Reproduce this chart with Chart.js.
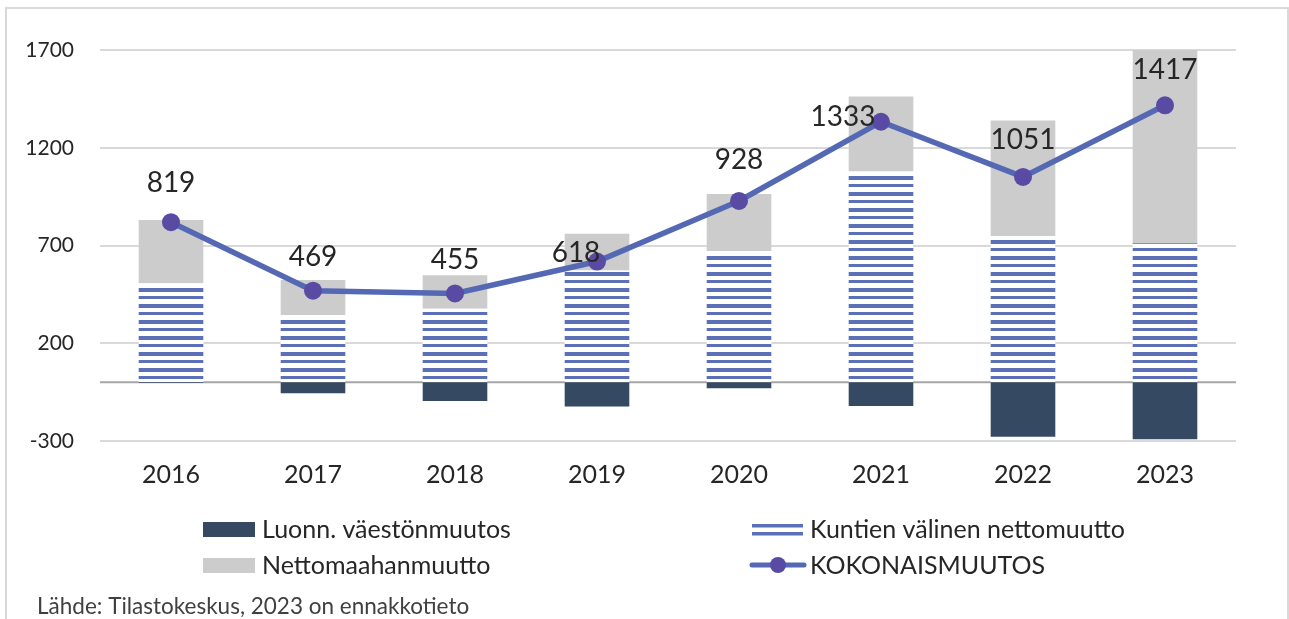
<!DOCTYPE html>
<html>
<head>
<meta charset="utf-8">
<script src="https://cdn.jsdelivr.net/npm/chart.js@4"></script>
<style>
  html, body { margin: 0; padding: 0; background: #fff; }
  #wrap { width: 1289px; height: 619px; position: relative; }
</style>
</head>
<body>
<div id="wrap"><canvas id="c" width="1289" height="619"></canvas></div>
<script>
// ---- Data ----
const years = ['2016', '2017', '2018', '2019', '2020', '2021', '2022', '2023'];
const luonnVaestonmuutos = [-3, -56, -95, -124, -30, -121, -278, -291];
const kuntienValinenNettomuutto = [507, 345, 376, 572, 672, 1078, 749, 712];
const nettomaahanmuutto = [324, 179, 172, 188, 292, 384, 590, 988];
const kokonaismuutos = [819, 469, 455, 618, 928, 1333, 1051, 1417];
const yTicks = [-300, 200, 700, 1200, 1700];
const seriesNames = ['Luonn. väestönmuutos', 'Kuntien välinen nettomuutto', 'Nettomaahanmuutto', 'KOKONAISMUUTOS'];
const sourceText = 'Lähde: Tilastokeskus, 2023 on ennakkotieto';

// ---- Styles ----
const FONT = 'Lato, "Open Sans", sans-serif';
const C_DARK = '#354963';
const C_STRIPE = '#5c70b8';
const C_GREY = '#cccccc';
const C_LINE = '#5468b4';
const C_MARK = '#594aa4';
const C_TEXT = '#262626';

function stripePattern() {
  const p = document.createElement('canvas');
  p.width = 8; p.height = 16;
  const g = p.getContext('2d');
  g.fillStyle = '#ffffff'; g.fillRect(0, 0, 8, 16);
  g.fillStyle = C_STRIPE;
  g.fillRect(0, 0, 8, 4);
  g.fillRect(0, 8, 8, 3);
  return document.getElementById('c').getContext('2d').createPattern(p, 'repeat');
}
const pattern = stripePattern();

// label offsets relative to each line point (manual placement as in the reference)
const labelOffsets = [[0, -39], [0, -34], [0, -33], [-21, -9], [0, -41], [-38, -5], [0, -37], [0, -35]];

const framePlugin = {
  id: 'frame',
  beforeDraw(chart) {
    const ctx = chart.ctx;
    ctx.save();
    ctx.fillStyle = '#fff';
    ctx.fillRect(0, 0, chart.width, chart.height);
    ctx.strokeStyle = '#d9d9d9';
    ctx.lineWidth = 2;
    ctx.strokeRect(6, 8, 1282, 640);
    ctx.restore();
  },
  beforeDatasetsDraw(chart) {
    const ctx = chart.ctx;
    const y0 = chart.scales.y.getPixelForValue(0);
    ctx.save();
    ctx.strokeStyle = '#a6a6a6';
    ctx.lineWidth = 2;
    ctx.beginPath();
    ctx.moveTo(chart.chartArea.left, y0);
    ctx.lineTo(chart.chartArea.right, y0);
    ctx.stroke();
    ctx.restore();
  }
};

const labelPlugin = {
  id: 'lineLabels',
  afterDatasetsDraw(chart) {
    const ctx = chart.ctx;
    const meta = chart.getDatasetMeta(3);
    ctx.save();
    ctx.font = '28px ' + FONT;
    ctx.fillStyle = C_TEXT;
    ctx.textAlign = 'center';
    ctx.textBaseline = 'middle';
    meta.data.forEach((pt, i) => {
      const o = labelOffsets[i];
      ctx.fillText(String(chart.data.datasets[3].data[i]), pt.x + o[0], pt.y + o[1]);
    });
    ctx.restore();
  }
};

const legendPlugin = {
  id: 'customLegend',
  afterDraw(chart) {
    const ctx = chart.ctx;
    const ds = chart.data.datasets;
    ctx.save();
    ctx.font = '25px ' + FONT;
    ctx.textBaseline = 'middle';
    // column 1
    ctx.fillStyle = C_DARK; ctx.fillRect(203, 522, 52, 15);
    ctx.fillStyle = C_GREY; ctx.fillRect(203, 558, 52, 15);
    // column 2: stripes
    ctx.fillStyle = C_STRIPE;
    ctx.fillRect(752, 524, 51, 3.5);
    ctx.fillRect(752, 532, 51, 3.5);
    // line + marker
    ctx.strokeStyle = C_LINE; ctx.lineWidth = 5; ctx.lineCap = 'round';
    ctx.beginPath(); ctx.moveTo(752, 565); ctx.lineTo(804, 565); ctx.stroke();
    ctx.fillStyle = C_MARK;
    ctx.beginPath(); ctx.arc(778, 565, 8, 0, Math.PI * 2); ctx.fill();
    ctx.fillStyle = C_TEXT;
    ctx.fillText(ds[0].label, 262, 530);
    ctx.fillText(ds[2].label, 262, 566);
    ctx.fillText(ds[1].label, 810, 530);
    ctx.fillText(ds[3].label, 810, 566);
    // source
    ctx.font = '22.5px ' + FONT;
    ctx.fillStyle = '#404040';
    ctx.fillText(sourceText, 37, 607);
    ctx.restore();
  }
};

new Chart(document.getElementById('c'), {
  data: {
    labels: years,
    datasets: [
      { type: 'bar', label: seriesNames[0], data: luonnVaestonmuutos, backgroundColor: C_DARK, stack: 'bars', order: 2 },
      { type: 'bar', label: seriesNames[1], data: kuntienValinenNettomuutto, backgroundColor: pattern, stack: 'bars', order: 2 },
      { type: 'bar', label: seriesNames[2], data: nettomaahanmuutto, backgroundColor: C_GREY, stack: 'bars', order: 2 },
      { type: 'line', label: seriesNames[3], data: kokonaismuutos, borderColor: C_LINE, borderWidth: 5.5,
        pointBackgroundColor: C_MARK, pointBorderColor: C_MARK, pointRadius: 9, pointBorderWidth: 0,
        tension: 0, stack: 'total', order: 0, clip: false }
    ]
  },
  options: {
    responsive: false,
    animation: false,
    layout: { padding: { left: 0, right: 53, top: 50, bottom: 118 } },
    plugins: { legend: { display: false }, tooltip: { enabled: false } },
    datasets: { bar: { categoryPercentage: 1, barPercentage: 0.455 } },
    scales: {
      x: {
        stacked: true,
        grid: { display: false, drawTicks: false },
        border: { display: false },
        ticks: { color: C_TEXT, font: { family: FONT, size: 25 }, padding: 19 },
        afterFit(s) { s.height = 60; }
      },
      y: {
        stacked: true,
        min: -300, max: 1700,
        grid: { color: '#d9d9d9', lineWidth: 2, drawTicks: false },
        border: { display: false },
        afterBuildTicks(s) { s.ticks = yTicks.map(v => ({ value: v })); },
        ticks: { color: C_TEXT, font: { family: FONT, size: 21 }, padding: 26, callback: v => String(v) },
        afterFit(s) { s.width = 100; }
      }
    }
  },
  plugins: [framePlugin, labelPlugin, legendPlugin]
});
</script>
</body>
</html>
